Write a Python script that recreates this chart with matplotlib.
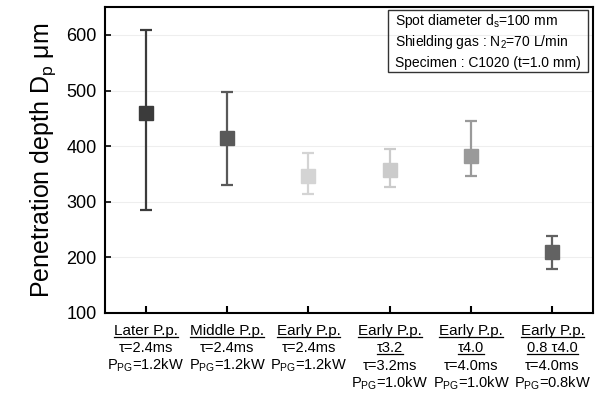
import numpy as np
import matplotlib
matplotlib.use('Agg')
import matplotlib.pyplot as plt
from matplotlib.patches import Rectangle
from matplotlib.lines import Line2D

plt.rcParams['font.family'] = ['Liberation Sans', 'DejaVu Sans']
plt.rcParams['mathtext.fontset'] = 'custom'
plt.rcParams['mathtext.rm'] = 'Liberation Sans'
plt.rcParams['mathtext.it'] = 'Liberation Sans:italic'
plt.rcParams['mathtext.bf'] = 'Liberation Sans:bold'
plt.rcParams['mathtext.default'] = 'regular'

# data
names = ['Later P.p.', 'Middle P.p.', 'Early P.p.', 'Early P.p.', 'Early P.p.', 'Early P.p.']
subnames = ['', '', '', 'τ3.2', 'τ4.0', '0.8 τ4.0']
taus = ['τ=2.4ms', 'τ=2.4ms', 'τ=2.4ms', 'τ=3.2ms', 'τ=4.0ms', 'τ=4.0ms']
powers = ['P$_{PG}$=1.2kW', 'P$_{PG}$=1.2kW', 'P$_{PG}$=1.2kW',
          'P$_{PG}$=1.0kW', 'P$_{PG}$=1.0kW', 'P$_{PG}$=0.8kW']
depth = [459, 414, 346, 357, 382, 210]
depth_max = [608, 497, 387, 394, 445, 238]
depth_min = [285, 330, 314, 326, 346, 179]
colors = ['#3b3b3b', '#595959', '#d4d4d4', '#cbcbcb', '#9a9a9a', '#626262']
info = ['Spot diameter d$_{s}$=100 mm',
        'Shielding gas : N$_{2}$=70 L/min',
        'Specimen : C1020 (t=1.0 mm)']

fig = plt.figure(figsize=(6.04, 3.96), dpi=100)
ax = fig.add_axes([0.174, 0.2096, 0.808, 0.7724])

x = np.arange(1, len(depth) + 1)
for i in range(len(depth)):
    err = [[depth[i] - depth_min[i]], [depth_max[i] - depth[i]]]
    ax.errorbar(x[i], depth[i], yerr=err, fmt='s', color=colors[i],
                markersize=9.5, elinewidth=1.6, capsize=4.5, capthick=1.6, zorder=3)

ax.set_xlim(0.5, 6.5)
ax.set_ylim(100, 650)
ax.set_yticks([100, 200, 300, 400, 500, 600])
ax.yaxis.grid(True, color='#eeeeee', linewidth=0.8)
ax.set_axisbelow(True)
ax.set_xticks(x)
ax.set_xticklabels([''] * len(x))
ax.tick_params(axis='x', direction='in', length=5, width=1.5)
ax.tick_params(axis='y', direction='in', length=4, width=1.2, labelsize=13, pad=6)
for s in ax.spines.values():
    s.set_linewidth(1.5)
ax.set_ylabel('Penetration depth D$_{p}$ μm', fontsize=18, labelpad=6)

# information box
ax.add_patch(Rectangle((0.580, 0.788), 0.41, 0.202, transform=ax.transAxes,
                       fill=False, edgecolor='#333333', linewidth=1.0, zorder=4))
for j, line in enumerate(info):
    ax.text(0.594, 0.941 - j * 0.0685, line, transform=ax.transAxes,
            fontsize=10, va='baseline', ha='left')

# multi-line category labels with underlines
under = []
offs = [15.8, 28.4, 41.0, 54.0]
for i in range(len(x)):
    lines = [names[i]]
    flags = [True]
    if subnames[i]:
        lines.append(subnames[i])
        flags.append(True)
    lines += [taus[i], powers[i]]
    flags += [False, False]
    for k, (txt, fl) in enumerate(zip(lines, flags)):
        t = ax.annotate(txt, xy=(x[i], 0), xycoords=('data', 'axes fraction'),
                        xytext=(0, -offs[k]), textcoords='offset points',
                        ha='center', va='baseline', fontsize=11 if k == 0 else 10.5)
        if fl:
            under.append((t, offs[k]))

fig.canvas.draw()
inv = fig.transFigure.inverted()
ybot = ax.transAxes.transform((0, 0))[1]
for t, off in under:
    bb = t.get_window_extent()
    yb = ybot - off * fig.dpi / 72.0 - 2.0
    p0 = inv.transform((bb.x0, yb))
    p1 = inv.transform((bb.x1, yb))
    fig.add_artist(Line2D([p0[0], p1[0]], [p0[1], p1[1]], color='black', linewidth=0.9))

fig.savefig('out.png', dpi=100)
